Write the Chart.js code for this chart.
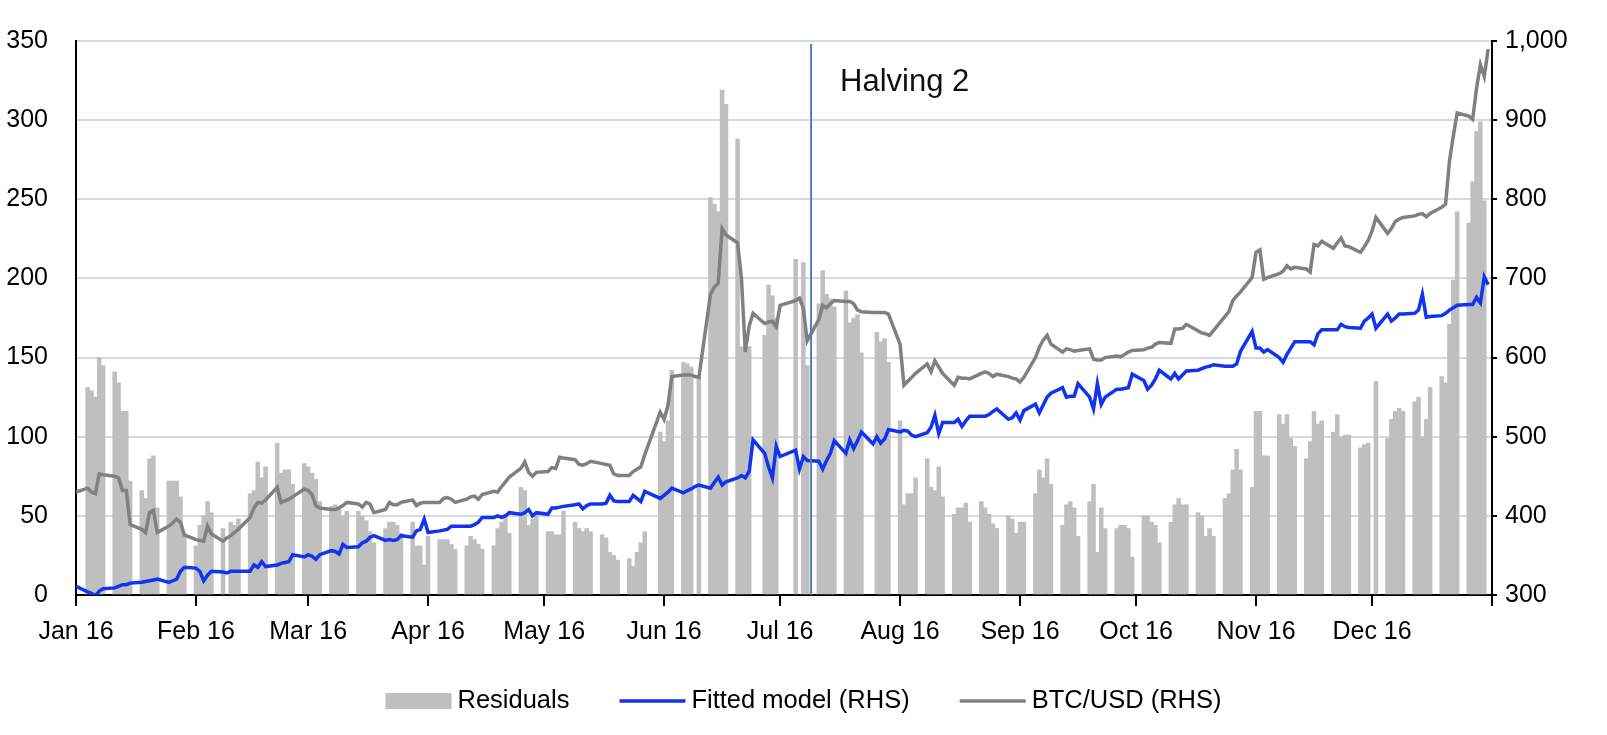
<!DOCTYPE html>
<html>
<head>
<meta charset="utf-8">
<script src="https://cdn.jsdelivr.net/npm/chart.js@4.4.1/dist/chart.umd.min.js"></script>
<style>
  html, body { margin: 0; padding: 0; background: #ffffff; }
  #wrap { width: 1607px; height: 735px; position: relative; }
</style>
</head>
<body>
<div id="wrap"><canvas id="chart" width="1607" height="735"></canvas></div>
<script>
// ---------------- DATA (2016, trading days) ----------------
const year = 2016;
const monthLabels = ['Jan 16','Feb 16','Mar 16','Apr 16','May 16','Jun 16','Jul 16','Aug 16','Sep 16','Oct 16','Nov 16','Dec 16'];
// days of each month that carry an observation
const tradingDays = [
  '1 4 5 6 7 8 11 12 13 14 15 18 19 20 21 22 25 26 27 28 29',
  '1 2 3 4 5 8 9 10 11 12 15 16 17 18 19 22 23 24 25 26 29',
  '1 2 3 4 7 8 9 10 11 14 15 16 17 18 21 22 23 24 25 28 29 30 31',
  '1 4 5 6 7 8 11 12 13 14 15 18 19 20 21 22 25 26 27 28 29',
  '2 3 4 5 6 9 10 11 12 13 16 17 18 19 20 23 24 25 26 27 31',
  '1 2 3 6 7 8 9 10 13 14 15 16 17 20 21 22 23 24 27 28 29 30',
  '1 5 6 7 8 11 12 13 14 15 18 19 20 21 22 25 26 27 28 29',
  '1 2 3 4 5 8 9 10 11 12 15 16 17 18 19 22 23 24 25 26 29 30 31',
  '1 2 5 6 7 8 9 12 13 14 15 16 19 20 21 22 23 26 27 28 29 30',
  '3 4 5 6 7 10 11 12 13 14 17 18 19 20 21 24 25 26 27 28 31',
  '1 2 3 4 7 8 9 10 11 14 15 16 17 18 21 22 23 24 25 28 29 30',
  '1 2 5 6 7 8 9 12 13 14 15 16 19 20 21 22 23 26 27 28 29 30 31'
];

// Residuals (LHS)
const residuals = [
  null,131,129,125,150,145,141,134,116,116,72,66,61,86,88,55,72,72,72,62,38,            // Jan
  31,44,50,59,52,42,null,46,44,48,64,66,84,74,81,96,77,79,79,70,83,                     // Feb
  81,77,73,59,56,57,54,50,53,53,50,47,40,33,42,46,46,44,39,46,31,31,19,                 // Mar
  37,35,35,35,32,29,31,37,35,32,29,31,42,46,51,39,68,66,44,48,51,                       // Apr
  40,40,38,38,53,46,42,40,42,40,38,36,27,25,22,23,18,27,33,40,103,                      // May
  97,110,142,147,146,144,null,138,251,247,242,319,310,288,157,156,157,null,164,196,189,175, // Jun
  null,212,null,210,145,184,205,190,187,182,192,172,175,177,153,null,166,160,162,147,   // Jul
  110,57,64,64,74,86,68,66,81,62,51,55,55,58,46,59,55,51,45,42,50,48,39,                // Aug
  46,46,64,79,74,86,70,44,57,59,55,37,59,70,27,55,42,42,44,44,42,24,                    // Sep
  50,50,46,44,33,46,57,61,57,57,52,50,37,42,37,61,64,79,92,79,68,                       // Oct
  116,116,88,88,114,108,114,99,94,86,97,116,108,110,103,114,100,101,101,93,95,96,       // Nov
  null,135,99,111,116,118,116,122,125,100,111,131,138,134,171,199,242,235,261,293,299,249,null // Dec
];

// Fitted model (RHS)
const fittedModel = [
  311,304,302,299,305,308,309,311,313,313,315,316,317,318,319,320,316,318,320,330,335,
  334,330,318,325,330,329,328,330,330,330,330,338,335,342,336,338,340,341,342,351,348,
  351,349,345,351,356,355,352,364,360,361,366,368,373,375,369,370,369,370,375,373,381,383,396,
  379,381,382,383,387,387,387,387,389,392,398,398,400,398,400,404,402,404,408,400,404,
  402,410,410,411,412,414,415,409,413,415,415,416,426,419,418,418,426,422,418,431,422,
  426,430,435,429,432,434,437,439,435,442,449,439,443,448,451,448,456,496,479,462,448,488,
  475,483,459,475,470,469,459,470,479,495,479,496,485,495,506,491,500,492,497,509,
  506,508,507,502,500,505,512,527,504,518,518,522,513,520,526,526,526,528,532,535,522,524,530,
  521,533,541,530,540,550,555,562,550,551,551,567,550,535,567,541,550,560,560,561,562,579,
  571,560,565,573,584,573,580,573,578,583,584,586,588,589,591,589,589,589,592,608,633,
  612,612,607,610,600,594,604,612,620,620,620,616,630,635,635,635,642,639,638,637,646,650,
  655,637,655,646,650,655,655,656,660,680,651,652,653,656,660,663,666,667,667,676,669,702,692
];

// BTC/USD (RHS)
const btcUsd = [
  430,435,430,428,453,452,450,448,432,432,389,383,379,404,407,379,387,391,396,392,376,
  370,369,368,387,377,368,372,375,379,383,398,410,417,416,420,436,417,419,421,424,434,
  432,427,413,410,408,408,410,413,417,415,411,417,415,404,408,417,414,414,417,420,413,416,417,
  417,417,422,423,421,417,421,424,425,421,427,431,430,437,443,449,460,468,455,450,455,
  456,461,460,474,473,471,465,464,466,469,466,465,464,453,451,451,456,459,462,477,531,
  522,539,576,578,578,578,576,575,680,689,694,763,755,745,700,607,640,656,643,645,646,639,
  666,672,675,662,621,648,666,663,668,672,671,671,668,660,658,657,657,657,657,655,
  617,565,570,575,580,592,582,596,588,580,565,575,574,574,573,580,582,580,576,579,576,574,573,
  569,575,600,613,622,628,617,607,611,610,608,609,611,598,597,597,600,602,601,604,607,609,
  610,612,613,617,619,618,636,636,637,642,634,631,630,628,634,652,658,672,678,683,701,
  733,736,699,701,706,709,716,712,714,712,708,743,741,747,738,745,751,741,740,733,740,748,
  760,777,757,763,772,775,777,779,781,782,778,782,790,794,848,880,909,905,901,940,970,955,990
];

const leftTicks = { min: 0, max: 350, step: 50 };
const rightTicks = { min: 300, max: 1000, step: 100 };
const halvingDate = [7, 9];          // month, day
const halvingLabel = 'Halving 2';

// ---------------- helpers ----------------
const DAY = 86400000;
const dayOfYear = (m, d) => Math.round((Date.UTC(year, m - 1, d) - Date.UTC(year, 0, 1)) / DAY);
const dayIndex = [];
tradingDays.forEach((s, mi) => s.split(' ').forEach(d => dayIndex.push(dayOfYear(mi + 1, +d))));
const monthStarts = monthLabels.map((_, i) => dayOfYear(i + 1, 1));
const yearEnd = dayOfYear(12, 31) + 1;
const pts = arr => arr.map((v, i) => ({ x: dayIndex[i], y: v }));

const FONT = '"Liberation Sans", Arial, sans-serif';
Chart.defaults.font.family = FONT;
Chart.defaults.font.size = 25;
Chart.defaults.color = '#000000';

const overlay = {
  id: 'overlay',
  afterDatasetsDraw(chart) {
    const { ctx, chartArea, scales } = chart;
    const px = scales.x.getPixelForValue(dayOfYear(halvingDate[0], halvingDate[1]));
    ctx.save();
    ctx.strokeStyle = '#4f7fb8';
    ctx.lineWidth = 2;
    ctx.beginPath();
    ctx.moveTo(px, chartArea.top + 3);
    ctx.lineTo(px, chartArea.bottom);
    ctx.stroke();
    ctx.fillStyle = '#111111';
    ctx.font = '31px ' + FONT;
    ctx.textBaseline = 'middle';
    ctx.textAlign = 'left';
    ctx.fillText(halvingLabel, px + 29, 82);
    ctx.restore();
  },
  afterDraw(chart) {
    const ctx = chart.ctx;
    ctx.save();
    ctx.font = '25.5px ' + FONT;
    ctx.textBaseline = 'middle';
    ctx.textAlign = 'left';
    const y = 701, sw = 66, gap = 6, itemGap = 50;
    const items = chart.data.datasets.slice().sort((a, b) => a.legendOrder - b.legendOrder);
    const widths = items.map(d => sw + gap + ctx.measureText(d.label).width);
    const total = widths.reduce((a, b) => a + b, 0) + itemGap * (items.length - 1);
    let x = (chart.width - total) / 2;
    items.forEach((d, i) => {
      if (d.type === 'bar') {
        ctx.fillStyle = d.backgroundColor;
        ctx.fillRect(x, y - 8, sw, 16);
      } else {
        ctx.strokeStyle = d.borderColor;
        ctx.lineWidth = d.borderWidth;
        ctx.beginPath();
        ctx.moveTo(x, y);
        ctx.lineTo(x + sw, y);
        ctx.stroke();
      }
      ctx.fillStyle = '#000000';
      ctx.fillText(d.label, x + sw + gap, y);
      x += widths[i] + itemGap;
    });
    ctx.restore();
  }
};

new Chart(document.getElementById('chart'), {
  type: 'bar',
  data: {
    datasets: [
      {
        type: 'line', label: 'BTC/USD (RHS)', legendOrder: 2, data: pts(btcUsd), yAxisID: 'y1',
        borderColor: '#808080', borderWidth: 3.5, pointRadius: 0, tension: 0, spanGaps: true, order: 2
      },
      {
        type: 'line', label: 'Fitted model (RHS)', legendOrder: 1, data: pts(fittedModel), yAxisID: 'y1',
        borderColor: '#1234ee', borderWidth: 3.5, pointRadius: 0, tension: 0, spanGaps: true, order: 1
      },
      {
        type: 'bar', label: 'Residuals', legendOrder: 0, data: pts(residuals), yAxisID: 'y',
        backgroundColor: '#bfbfbf', borderWidth: 0, barPercentage: 1, categoryPercentage: 1, order: 3
      }
    ]
  },
  options: {
    responsive: false,
    animation: false,
    devicePixelRatio: 1,
    layout: { padding: { top: 41, left: 0, right: 0, bottom: 0 } },
    plugins: { legend: { display: false }, tooltip: { enabled: false } },
    scales: {
      x: {
        type: 'linear', min: 0, max: yearEnd, offset: false,
        afterBuildTicks: s => { s.ticks = monthStarts.concat([yearEnd]).map(v => ({ value: v })); },
        afterFit: s => { s.height = 140; },
        ticks: {
          autoSkip: false, maxRotation: 0, padding: 11,
          callback: v => { const i = monthStarts.indexOf(v); return i >= 0 ? monthLabels[i] : ''; }
        },
        grid: { drawOnChartArea: false, drawTicks: true, tickLength: 11, color: '#000000', lineWidth: 2, offset: false },
        border: { display: true, color: '#000000', width: 2 }
      },
      y: {
        position: 'left', min: leftTicks.min, max: leftTicks.max,
        afterFit: s => { s.width = 76; },
        ticks: { stepSize: leftTicks.step, padding: 4 },
        grid: { color: '#d9d9d9', lineWidth: 2, drawTicks: true, tickLength: 24, tickColor: 'rgba(0,0,0,0)' },
        border: { display: true, color: '#000000', width: 2 }
      },
      y1: {
        position: 'right', min: rightTicks.min, max: rightTicks.max,
        afterFit: s => { s.width = 115; },
        ticks: { stepSize: rightTicks.step, padding: 8,
                 callback: v => v.toLocaleString('en-US') },
        grid: { drawOnChartArea: false, drawTicks: true, tickLength: 5, color: '#000000', lineWidth: 2 },
        border: { display: true, color: '#000000', width: 2 }
      }
    }
  },
  plugins: [overlay]
});
</script>
</body>
</html>
